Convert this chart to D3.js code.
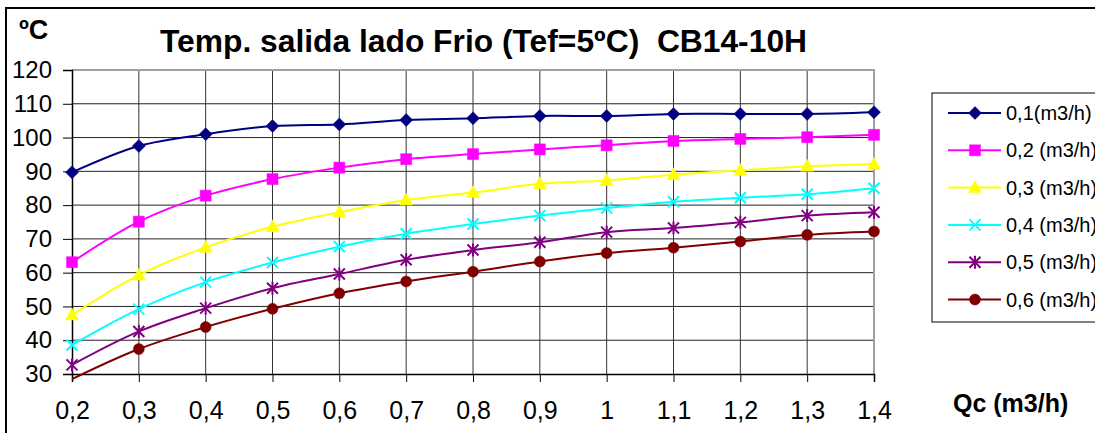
<!DOCTYPE html>
<html>
<head>
<meta charset="utf-8">
<script src="https://cdn.jsdelivr.net/npm/d3@7"></script>
<style>
  html, body { margin: 0; padding: 0; background: #fff; }
  svg { display: block; font-family: Arial, "Liberation Sans", sans-serif; }
  .keep-spaces { white-space: pre; }
</style>
</head>
<body>
<svg id="chart" width="1095" height="433"></svg>
<script>
// Caudal por el lado caliente, Qc (m3/h)
const flows = [0.2, 0.3, 0.4, 0.5, 0.6, 0.7, 0.8, 0.9, 1.0, 1.1, 1.2, 1.3, 1.4];
const flowLabels = ["0,2", "0,3", "0,4", "0,5", "0,6", "0,7", "0,8", "0,9", "1", "1,1", "1,2", "1,3", "1,4"];

// Temperatura de salida (ºC) para cada caudal del lado frío
const serieNames = ["0,1(m3/h)", "0,2 (m3/h)", "0,3 (m3/h)", "0,4 (m3/h)", "0,5 (m3/h)", "0,6 (m3/h)"];
const t01 = [89.7, 97.5, 101.0, 103.4, 103.9, 105.2, 105.7, 106.4, 106.4, 107.0, 107.0, 107.0, 107.5];
const t02 = [63.1, 75.1, 82.8, 87.7, 91.1, 93.6, 95.1, 96.5, 97.7, 99.0, 99.6, 100.1, 100.8];
const t03 = [47.5, 59.3, 67.5, 73.6, 77.9, 81.5, 83.7, 86.3, 87.3, 89.0, 90.3, 91.5, 92.1];
const t04 = [38.6, 49.2, 57.2, 63.0, 67.7, 71.5, 74.4, 76.9, 79.1, 81.0, 82.2, 83.2, 85.0];
const t05 = [32.7, 42.6, 49.5, 55.4, 59.6, 63.8, 66.7, 69.0, 72.0, 73.2, 74.9, 76.9, 77.9];
const t06 = [28.5, 37.4, 43.9, 49.3, 53.9, 57.4, 60.3, 63.3, 65.8, 67.4, 69.2, 71.2, 72.2];

const yTicks = [30, 40, 50, 60, 70, 80, 90, 100, 110, 120];
const colors = ["#000080", "#FF00FF", "#FFFF00", "#00FFFF", "#800080", "#800000"];
const markerKinds = ["diamond", "square", "triangle", "cross", "star", "circle"];

const series = [t01, t02, t03, t04, t05, t06].map((vals, i) => ({
  name: serieNames[i],
  color: colors[i],
  kind: markerKinds[i],
  points: flows.map((q, j) => ({ q, t: vals[j] }))
}));

// Marcadores al estilo de las hojas de cálculo
const shapes = {
  diamond: { draw(c) { c.moveTo(0, -6.5); c.lineTo(6.5, 0); c.lineTo(0, 6.5); c.lineTo(-6.5, 0); c.closePath(); } },
  square: { draw(c) { c.rect(-5.5, -5.5, 11, 11); } },
  triangle: { draw(c) { c.moveTo(0, -7); c.lineTo(6.5, 5); c.lineTo(-6.5, 5); c.closePath(); } },
  cross: { draw(c) { c.moveTo(-5.5, -5.5); c.lineTo(5.5, 5.5); c.moveTo(-5.5, 5.5); c.lineTo(5.5, -5.5); } },
  star: { draw(c) { c.moveTo(-5.5, -5.5); c.lineTo(5.5, 5.5); c.moveTo(-5.5, 5.5); c.lineTo(5.5, -5.5); c.moveTo(0, -6.5); c.lineTo(0, 6.5); } },
  circle: { draw(c) { c.moveTo(5.5, 0); c.arc(0, 0, 5.5, 0, 2 * Math.PI); } }
};
const stroked = new Set(["cross", "star"]);

function drawMarker(sel, kind, color) {
  sel.append("path")
    .attr("d", d3.symbol().type(shapes[kind])())
    .attr("fill", stroked.has(kind) ? "none" : color)
    .attr("stroke", color)
    .attr("stroke-width", stroked.has(kind) ? 2 : 0.5);
}

const svg = d3.select("#chart");

// Marco exterior del gráfico
svg.append("rect")
  .attr("x", 6).attr("y", 8).attr("width", 1200).attr("height", 600)
  .attr("fill", "#fff").attr("stroke", "#000").attr("stroke-width", 2);

const x = d3.scaleLinear().domain([0.2, 1.4]).range([72, 874]);
const y = d3.scaleLinear().domain([30, 120]).range([374, 70]);

// Rejilla
const grid = svg.append("g");
grid.selectAll("line.h").data(yTicks.filter(v => v > 30 && v < 120)).join("line")
  .attr("x1", x(0.2)).attr("x2", x(1.4))
  .attr("y1", d => y(d)).attr("y2", d => y(d))
  .attr("stroke", "#222").attr("stroke-width", 1);
grid.selectAll("line.v").data(flows.filter(q => q > 0.2 && q < 1.4)).join("line")
  .attr("x1", d => x(d)).attr("x2", d => x(d))
  .attr("y1", y(120)).attr("y2", y(30))
  .attr("stroke", "#333").attr("stroke-width", 1);

// Borde del área de trazado (superior y derecho)
svg.append("path")
  .attr("d", `M${x(0.2)},${y(120)}H${x(1.4)}V${y(30)}`)
  .attr("fill", "none").attr("stroke", "#a0a0a0").attr("stroke-width", 2);

// Ejes
const yAxis = d3.axisLeft(y).tickValues(yTicks).tickSize(9).tickPadding(11).tickFormat(d3.format("d"));
const xAxis = d3.axisBottom(x).tickValues(flows).tickSize(8).tickPadding(19)
  .tickFormat((d, i) => flowLabels[i]);

const gy = svg.append("g").attr("transform", `translate(${x(0.2)},0)`).call(yAxis);
gy.select(".domain").attr("stroke", "#000").attr("stroke-width", 1.5);
gy.selectAll(".tick line").attr("stroke", "#000");
gy.selectAll(".tick text").attr("font-size", 24).attr("fill", "#000")
  .attr("font-family", "Arial, 'Liberation Sans', sans-serif");

const gx = svg.append("g").attr("transform", `translate(0,${y(30)})`).call(xAxis);
gx.select(".domain").attr("stroke", "#000").attr("stroke-width", 1.5);
gx.selectAll(".tick line").attr("stroke", "#000");
gx.selectAll(".tick text").attr("font-size", 25).attr("fill", "#000")
  .attr("font-family", "Arial, 'Liberation Sans', sans-serif");

// Curvas
const line = d3.line().x(d => x(d.q)).y(d => y(d.t)).curve(d3.curveCatmullRom.alpha(0.5));
const gs = svg.append("g").selectAll("g").data(series).join("g");
gs.append("path")
  .attr("d", d => line(d.points))
  .attr("fill", "none").attr("stroke", d => d.color).attr("stroke-width", 2);
gs.each(function (s) {
  d3.select(this).selectAll("g.m")
    .data(s.points.filter(p => p.t >= 30 && p.t <= 120))
    .join("g")
    .attr("transform", p => `translate(${x(p.q)},${y(p.t)})`)
    .each(function () { drawMarker(d3.select(this), s.kind, s.color); });
});

// Títulos
svg.append("text")
  .attr("class", "keep-spaces")
  .attr("x", 483.5).attr("y", 52)
  .attr("text-anchor", "middle")
  .attr("font-size", 31).attr("font-weight", "bold")
  .attr("textLength", 647).attr("lengthAdjust", "spacingAndGlyphs")
  .text("Temp. salida lado Frio (Tef=5ºC)  CB14-10H");

svg.append("text")
  .attr("x", 19).attr("y", 39)
  .attr("font-size", 27).attr("font-weight", "bold")
  .text("ºC");

svg.append("text")
  .attr("x", 953).attr("y", 412)
  .attr("font-size", 25).attr("font-weight", "bold")
  .text("Qc (m3/h)");

// Leyenda
const legend = svg.append("g");
legend.append("rect")
  .attr("x", 932).attr("y", 93).attr("width", 300).attr("height", 229)
  .attr("fill", "#fff").attr("stroke", "#000").attr("stroke-width", 1);
const rows = legend.selectAll("g.row").data(series).join("g")
  .attr("transform", (d, i) => `translate(0,${113 + i * 37.3})`);
rows.append("line")
  .attr("x1", 948).attr("x2", 1001).attr("y1", 0).attr("y2", 0)
  .attr("stroke", d => d.color).attr("stroke-width", 2);
rows.each(function (s) {
  const m = d3.select(this).append("g").attr("transform", "translate(975,0)");
  drawMarker(m, s.kind, s.color);
});
rows.append("text")
  .attr("x", 1006).attr("y", 7)
  .attr("font-size", 20)
  .text(d => d.name);
</script>
</body>
</html>
